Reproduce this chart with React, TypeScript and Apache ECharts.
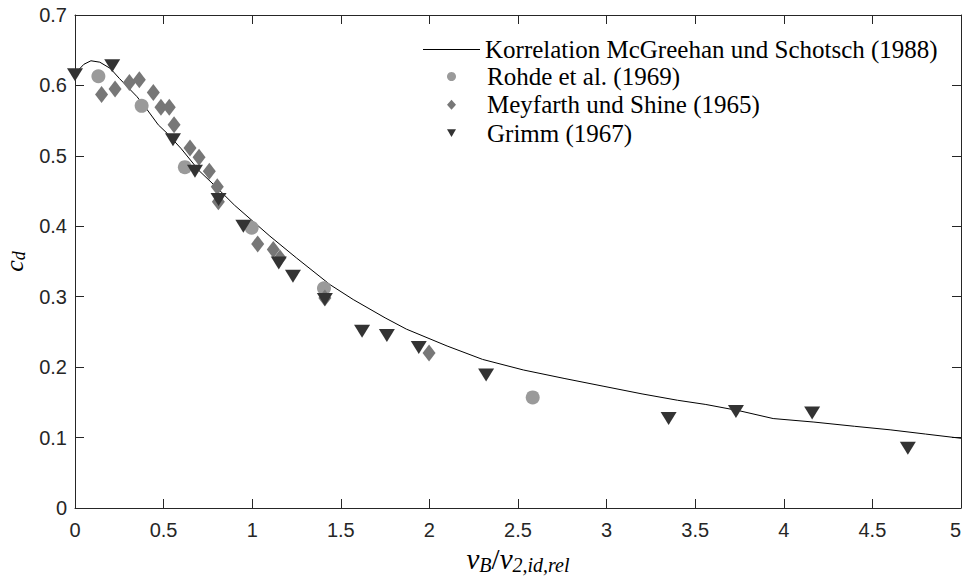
import React, { useEffect, useRef } from "react";
import * as echarts from "echarts";

// Correlation curve (McGreehan & Schotsch 1988)
const corrX = [0, 0.02, 0.05, 0.09, 0.14, 0.2, 0.25, 0.3, 0.35, 0.4, 0.47, 0.52, 0.6, 0.7, 0.8, 0.9, 1.0, 1.1, 1.25, 1.44, 1.57, 1.75, 1.87, 2.1, 2.3, 2.53, 2.76, 2.98, 3.2, 3.4, 3.56, 3.75, 3.94, 4.17, 4.4, 4.6, 4.8, 5.0];
const corrY = [0.615, 0.622, 0.63, 0.635, 0.633, 0.624, 0.61, 0.597, 0.584, 0.568, 0.544, 0.532, 0.51, 0.479, 0.455, 0.43, 0.408, 0.386, 0.355, 0.317, 0.296, 0.27, 0.254, 0.23, 0.211, 0.196, 0.184, 0.173, 0.162, 0.153, 0.147, 0.138, 0.127, 0.122, 0.116, 0.111, 0.105, 0.099];

// Rohde et al. (1969)
const rohdeX = [0.132, 0.376, 0.62, 0.997, 1.405, 2.583];
const rohdeY = [0.613, 0.571, 0.484, 0.398, 0.312, 0.157];

// Meyfarth und Shine (1965)
const meyX = [0.15, 0.226, 0.307, 0.363, 0.442, 0.485, 0.532, 0.559, 0.649, 0.7, 0.758, 0.803, 0.809, 1.031, 1.119, 1.157, 1.41, 1.998];
const meyY = [0.587, 0.595, 0.604, 0.608, 0.59, 0.569, 0.569, 0.544, 0.511, 0.498, 0.478, 0.456, 0.435, 0.375, 0.367, 0.355, 0.298, 0.22];

// Grimm (1967)
const grimmX = [0, 0.21, 0.553, 0.677, 0.81, 0.95, 1.15, 1.23, 1.41, 1.62, 1.76, 1.94, 2.32, 3.35, 3.73, 4.16, 4.7];
const grimmY = [0.615, 0.628, 0.523, 0.478, 0.438, 0.4, 0.348, 0.329, 0.296, 0.251, 0.245, 0.228, 0.189, 0.127, 0.137, 0.135, 0.085];

const seriesNames = [
  "Korrelation McGreehan und Schotsch (1988)",
  "Rohde et al. (1969)",
  "Meyfarth und Shine (1965)",
  "Grimm (1967)",
];

const zip = (xs: number[], ys: number[]) => xs.map((x, i) => [x, ys[i]]);

const AXIS = "#262626";
const SANS = "'Liberation Sans', Arial, sans-serif";
const SERIF = "'Liberation Serif', 'Times New Roman', serif";

const legendText = { fontFamily: SERIF, fontSize: 25, color: "#000" };

export default function App() {
  const ref = useRef<HTMLDivElement>(null);

  useEffect(() => {
    document.body.style.margin = "0";
    if (!ref.current) return;
    const chart = echarts.init(ref.current, undefined, { renderer: "svg" });

    const baseAxis = {
      axisLine: { show: true, onZero: false, lineStyle: { color: AXIS, width: 1 } },
      axisTick: { show: true, inside: true, length: 9, lineStyle: { color: AXIS } },
      splitLine: { show: false },
    };

    chart.setOption({
      animation: false,
      backgroundColor: "#ffffff",
      grid: { left: 75, right: 4, top: 15, bottom: 70, outerBoundsMode: "none" },
      legend: [
        {
          // correlation line entry
          orient: "vertical",
          left: 423,
          top: 37,
          padding: 0,
          itemWidth: 57,
          itemHeight: 1,
          icon: "rect",
          data: [seriesNames[0]],
          textStyle: legendText,
        },
        {
          // measurement entries
          orient: "vertical",
          left: 447,
          top: 64,
          padding: 0,
          itemWidth: 9,
          itemHeight: 10,
          itemGap: 3.3,
          data: [
            { name: seriesNames[1] },
            { name: seriesNames[2] },
            { name: seriesNames[3], icon: "path://M0,0L10,0L5,8.5Z" },
          ],
          textStyle: { ...legendText, padding: [0, 0, 0, 26] },
        },
      ],
      xAxis: [
        {
          ...baseAxis,
          type: "value",
          position: "bottom",
          min: 0,
          max: 5,
          interval: 0.5,
          axisLabel: { color: AXIS, fontFamily: SANS, fontSize: 20, margin: 12, alignMaxLabel: "right" },
          name: "{v|v}{s|B}{u|/}{v|v}{s|2,id,rel}",
          nameLocation: "middle",
          nameGap: 32,
          nameTextStyle: {
            rich: {
              v: { fontFamily: SERIF, fontStyle: "italic", fontSize: 29, color: "#000" },
              u: { fontFamily: SERIF, fontSize: 29, color: "#000" },
              s: { fontFamily: SERIF, fontStyle: "italic", fontSize: 20, color: "#000", padding: [12, 0, 0, 0] },
            },
          },
        },
        {
          ...baseAxis,
          type: "value",
          position: "top",
          min: 0,
          max: 5,
          interval: 0.5,
          axisLabel: { show: false },
        },
      ],
      yAxis: [
        {
          ...baseAxis,
          type: "value",
          position: "left",
          min: 0,
          max: 0.7,
          interval: 0.1,
          axisLabel: { color: AXIS, fontFamily: SANS, fontSize: 20, margin: 8 },
          name: "{v|c}{s|d}",
          nameLocation: "middle",
          nameGap: 43,
          nameRotate: 90,
          nameTextStyle: {
            rich: {
              v: { fontFamily: SERIF, fontStyle: "italic", fontSize: 26, color: "#000" },
              s: { fontFamily: SERIF, fontStyle: "italic", fontSize: 18, color: "#000", padding: [9, 0, 0, 0] },
            },
          },
        },
        {
          ...baseAxis,
          type: "value",
          position: "right",
          min: 0,
          max: 0.7,
          interval: 0.1,
          axisLabel: { show: false },
        },
      ],
      series: [
        {
          name: seriesNames[0],
          type: "line",
          data: zip(corrX, corrY),
          symbol: "none",
          lineStyle: { color: "#000000", width: 1 },
          itemStyle: { color: "#000000" },
          z: 1,
        },
        {
          name: seriesNames[1],
          type: "scatter",
          data: zip(rohdeX, rohdeY),
          symbol: "circle",
          symbolSize: 14,
          itemStyle: { color: "#9a9a9a", opacity: 1 },
          z: 2,
        },
        {
          name: seriesNames[2],
          type: "scatter",
          data: zip(meyX, meyY),
          symbol: "diamond",
          symbolSize: [13, 17],
          itemStyle: { color: "#777777", opacity: 1 },
          z: 3,
        },
        {
          name: seriesNames[3],
          type: "scatter",
          data: zip(grimmX, grimmY),
          symbol: "triangle",
          symbolRotate: 180,
          symbolSize: [16, 13],
          itemStyle: { color: "#333333", opacity: 1 },
          z: 4,
        },
      ],
    });

    return () => chart.dispose();
  }, []);

  return <div ref={ref} style={{ width: 965, height: 578 }} />;
}
